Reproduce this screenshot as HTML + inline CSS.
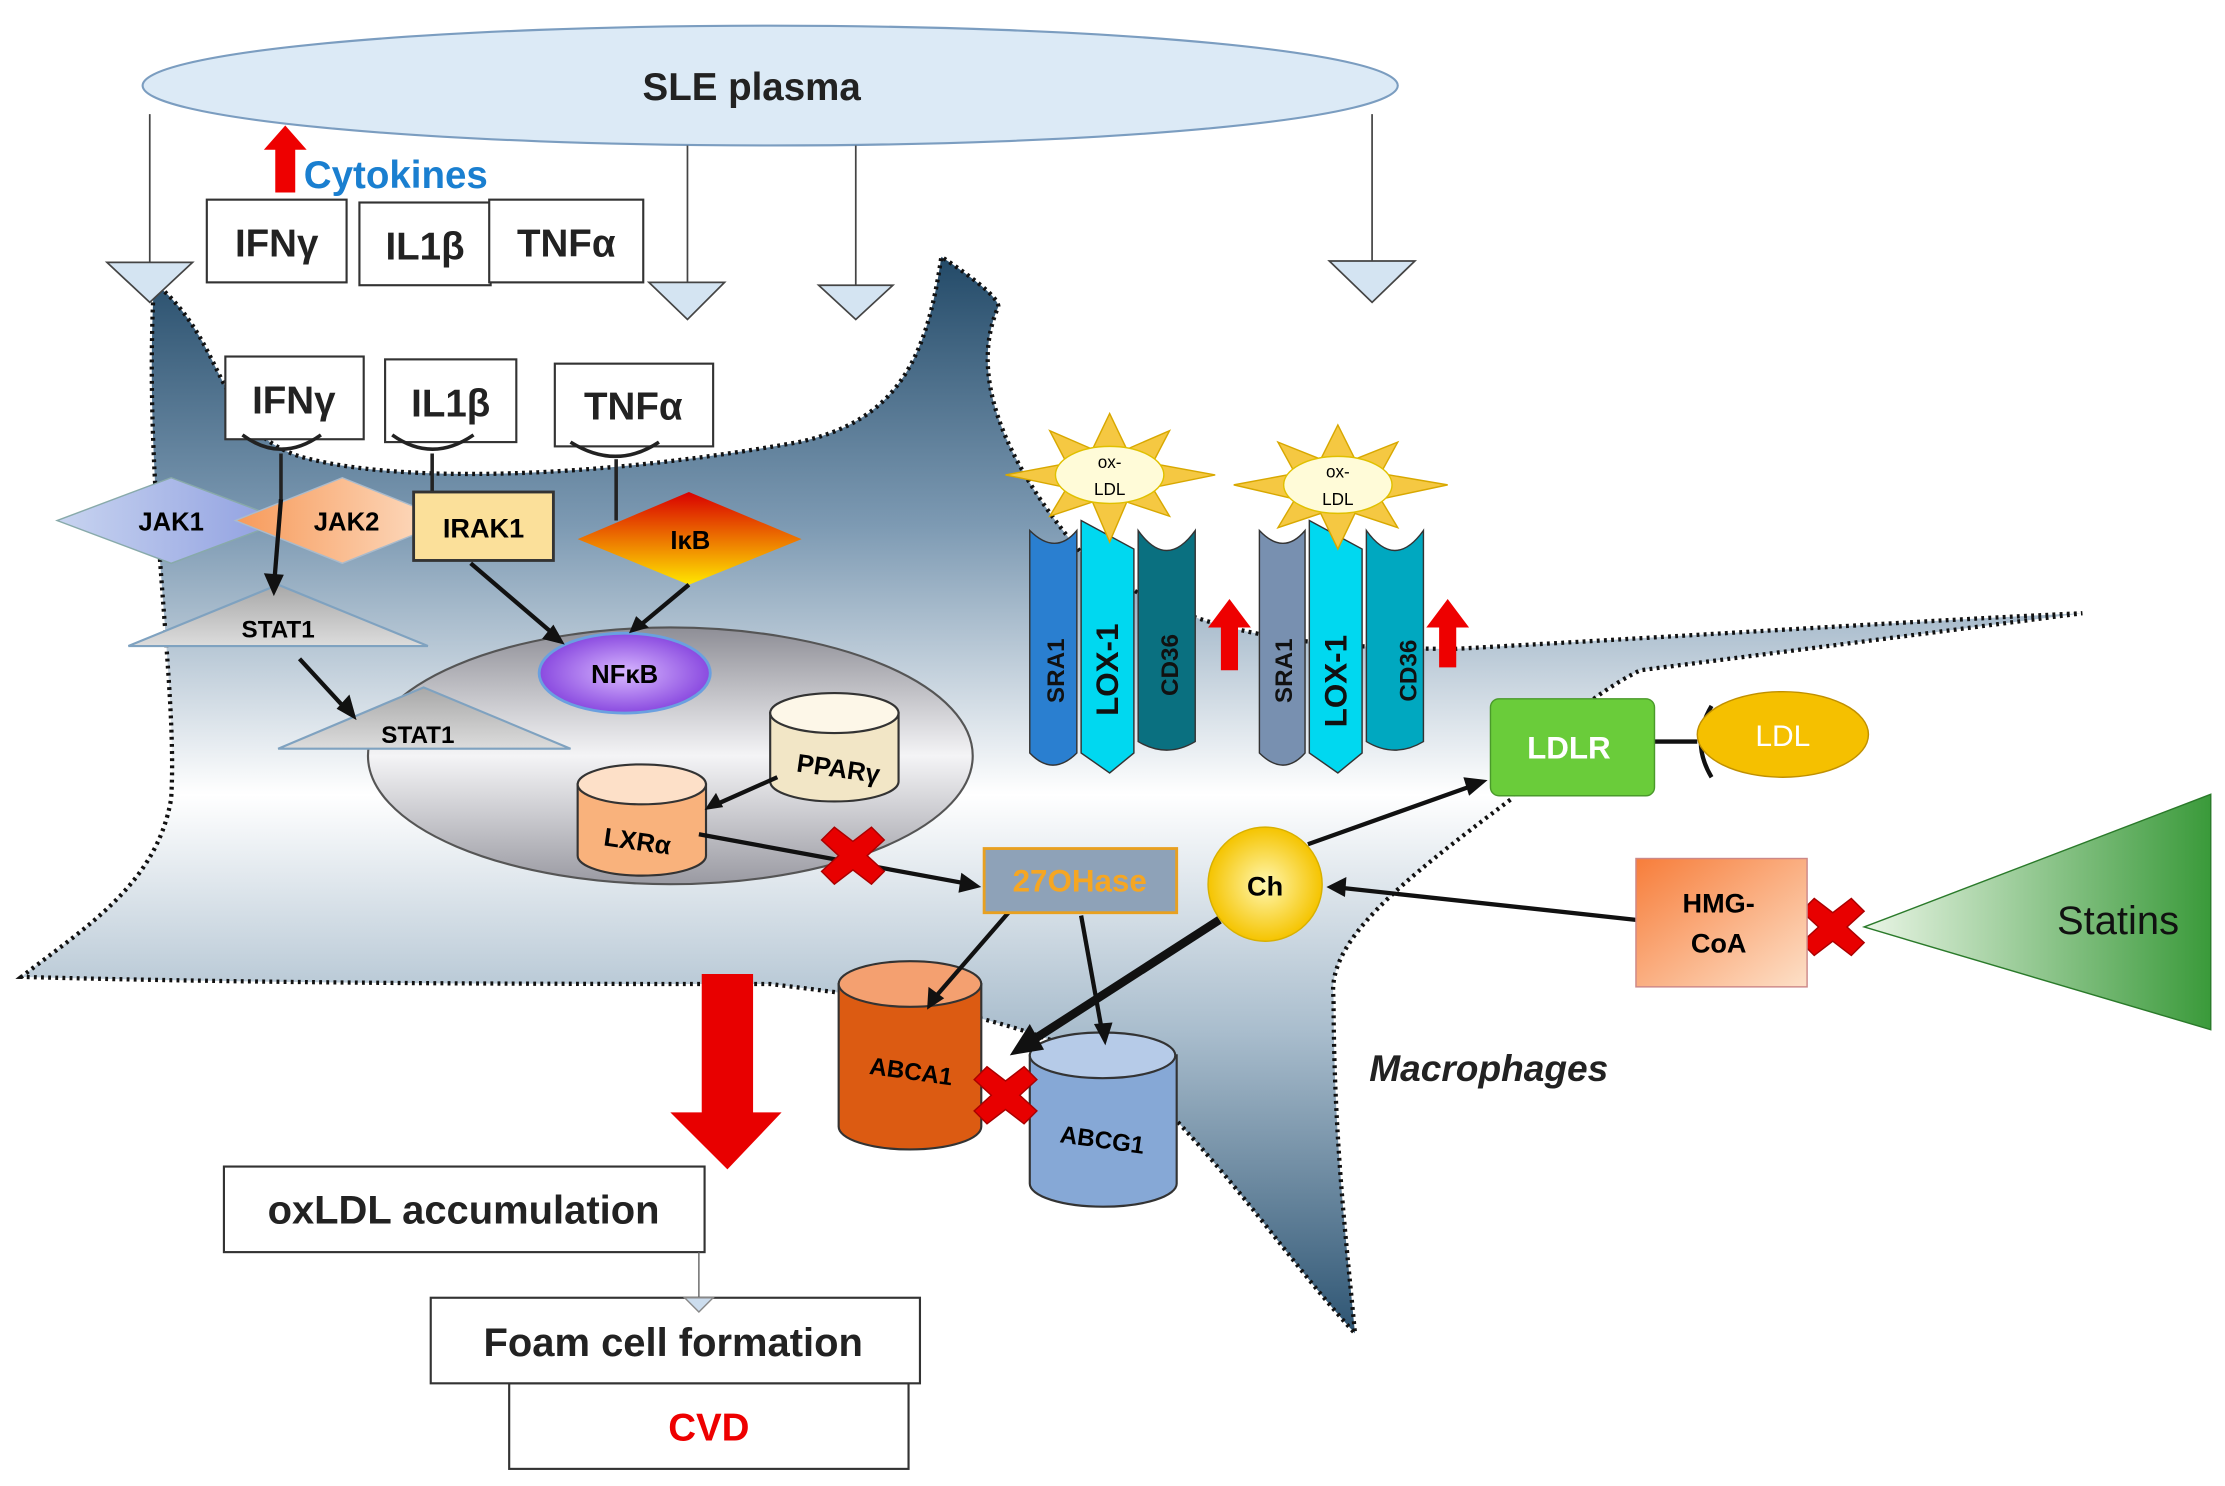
<!DOCTYPE html>
<html><head><meta charset="utf-8"><style>
html,body{margin:0;padding:0;background:#fff;}
svg{display:block;}
text{font-family:"Liberation Sans","DejaVu Sans",sans-serif;}
</style></head><body>
<svg width="2225" height="1486" viewBox="0 0 1560 1042" preserveAspectRatio="none" xmlns="http://www.w3.org/2000/svg">
<defs>
<linearGradient id="cell" x1="0" y1="0" x2="0" y2="1">
<stop offset="0" stop-color="#234a68"/><stop offset="0.25" stop-color="#7d9ab3"/><stop offset="0.5" stop-color="#ffffff"/><stop offset="0.72" stop-color="#a9bdcd"/><stop offset="1" stop-color="#2e5573"/></linearGradient>
<linearGradient id="nuc" x1="0" y1="0" x2="0" y2="1"><stop offset="0" stop-color="#8e8e96"/><stop offset="0.5" stop-color="#f4f4f6"/><stop offset="1" stop-color="#9a9aa2"/></linearGradient>
<linearGradient id="ikb" x1="0" y1="0" x2="0" y2="1"><stop offset="0" stop-color="#d90000"/><stop offset="1" stop-color="#ffe600"/></linearGradient>
<linearGradient id="jak1" x1="0" y1="0" x2="1" y2="0"><stop offset="0" stop-color="#c8d4f0"/><stop offset="1" stop-color="#8e9ee0"/></linearGradient>
<linearGradient id="jak2" x1="0" y1="0" x2="1" y2="0"><stop offset="0" stop-color="#f79a5a"/><stop offset="1" stop-color="#fde0c8"/></linearGradient>
<linearGradient id="stat" x1="0" y1="0" x2="0" y2="1"><stop offset="0" stop-color="#a8a8a8"/><stop offset="1" stop-color="#dcdcdc"/></linearGradient>
<linearGradient id="statins" x1="0" y1="0" x2="1" y2="0"><stop offset="0" stop-color="#eaf5e6"/><stop offset="1" stop-color="#3a9a3a"/></linearGradient>
<linearGradient id="hmg" x1="0" y1="0" x2="1" y2="1"><stop offset="0" stop-color="#f77d3a"/><stop offset="1" stop-color="#fde0c8"/></linearGradient>
<radialGradient id="nfkb"><stop offset="0" stop-color="#d8b8ff"/><stop offset="1" stop-color="#8a4ae0"/></radialGradient>
<radialGradient id="ch"><stop offset="0" stop-color="#fff7b0"/><stop offset="1" stop-color="#f5c400"/></radialGradient>
</defs>

<path d="M108,198 C160,240 150,300 210,320 C280,340 420,335 560,310 C630,295 650,250 660,180 C690,200 700,210 700,215 C680,260 700,320 760,390 C820,440 900,455 1020,455 C1200,445 1350,435 1460,430 L1150,470 C1090,500 1060,550 1060,560 C980,620 930,660 935,700 C935,800 945,880 950,935 C900,880 870,830 800,760 C720,710 620,700 540,690 C400,690 200,690 15,685 C60,650 110,620 120,560 C125,480 100,340 108,198 Z" fill="url(#cell)" stroke="#111" stroke-width="3" stroke-dasharray="2,3"/>

<ellipse cx="540" cy="60" rx="440" ry="42" fill="#dceaf6" stroke="#7b9dc0" stroke-width="1.5"/>
<text x="527" y="70" font-size="27" text-anchor="middle" font-weight="bold" fill="#222">SLE plasma</text>
<g stroke="#444" stroke-width="1.2" fill="#d4e4f2">
<line x1="105" y1="80" x2="105" y2="185"/><polygon points="75,184 135,184 105,212"/>
<line x1="482" y1="102" x2="482" y2="198"/><polygon points="455,198 508,198 482,224"/>
<line x1="600" y1="102" x2="600" y2="200"/><polygon points="574,200 626,200 600,224"/>
<line x1="962" y1="80" x2="962" y2="183"/><polygon points="932,183 992,183 962,212"/>
</g>
<polygon points="193,135 193,105 185,105 200,88 215,105 207,105 207,135" fill="#e00"/>
<text x="213" y="132" font-size="27" font-weight="bold" fill="#1a7fd0">Cytokines</text>
<g fill="#fff" stroke="#333" stroke-width="1.5">
<rect x="145" y="140" width="98" height="58"/><rect x="252" y="142" width="92" height="58"/><rect x="343" y="140" width="108" height="58"/>
<rect x="158" y="250" width="97" height="58"/><rect x="270" y="252" width="92" height="58"/><rect x="389" y="255" width="111" height="58"/>
</g>
<g font-size="27" font-weight="bold" fill="#222" text-anchor="middle">
<text x="194" y="180">IFNγ</text><text x="298" y="182">IL1β</text><text x="397" y="180">TNFα</text>
<text x="206" y="290">IFNγ</text><text x="316" y="292">IL1β</text><text x="444" y="294">TNFα</text>
</g>
<g fill="none" stroke="#222" stroke-width="2.5">
<path d="M170,305 Q197,325 225,305"/><line x1="197" y1="318" x2="197" y2="350"/>
<path d="M275,305 Q303,325 332,305"/><line x1="303" y1="318" x2="303" y2="345"/>
<path d="M400,310 Q432,330 462,310"/><line x1="432" y1="322" x2="432" y2="365"/>
</g>
<polygon points="40,365 120,335 200,365 120,395" fill="url(#jak1)" stroke="#8aa" stroke-width="1"/>
<polygon points="165,365 240,335 315,365 240,395" fill="url(#jak2)" stroke="#abc" stroke-width="1"/>
<text x="120" y="372" font-size="18" font-weight="bold" text-anchor="middle">JAK1</text>
<text x="243" y="372" font-size="18" font-weight="bold" text-anchor="middle">JAK2</text>
<rect x="290" y="345" width="98" height="48" fill="#fbe09a" stroke="#333" stroke-width="2"/>
<text x="339" y="377" font-size="19" font-weight="bold" text-anchor="middle">IRAK1</text>
<polygon points="405,378 483,345 562,378 483,410" fill="url(#ikb)"/>
<text x="484" y="385" font-size="18" font-weight="bold" text-anchor="middle">IκB</text>
<polygon points="90,453 195,410 300,453" fill="url(#stat)" stroke="#7fa2c0" stroke-width="1.5"/>
<text x="195" y="447" font-size="17" font-weight="bold" text-anchor="middle">STAT1</text>

<ellipse cx="470" cy="530" rx="212" ry="90" fill="url(#nuc)" stroke="#555" stroke-width="1.5"/>
<polygon points="195,525 297,482 400,525" fill="url(#stat)" stroke="#7fa2c0" stroke-width="1.5"/>
<text x="293" y="521" font-size="17" font-weight="bold" text-anchor="middle">STAT1</text>
<ellipse cx="438" cy="472" rx="60" ry="28" fill="url(#nfkb)" stroke="#6aa0e0" stroke-width="2"/>
<text x="438" y="479" font-size="18" font-weight="bold" text-anchor="middle">NFκB</text>

<g stroke="#333" stroke-width="1.5">
<path d="M540,500 L540,548 A45,14 0 0 0 630,548 L630,500 Z" fill="#f2e6c6"/><ellipse cx="585" cy="500" rx="45" ry="14" fill="#fdf7e8"/>
<path d="M405,550 L405,600 A45,14 0 0 0 495,600 L495,550 Z" fill="#f9b27c"/><ellipse cx="450" cy="550" rx="45" ry="14" fill="#fde0c8"/>
<path d="M588,690 L588,790 A50,16 0 0 0 688,790 L688,690 Z" fill="#dc5b12"/><ellipse cx="638" cy="690" rx="50" ry="16" fill="#f4a070"/>
<path d="M722,740 L722,830 A51,16 0 0 0 825,830 L825,740 Z" fill="#86a8d6"/><ellipse cx="773" cy="740" rx="51" ry="16" fill="#b6cbe8"/>
</g>

<g stroke="#111" stroke-width="3" fill="none">
<line x1="197" y1="350" x2="192" y2="412"/><line x1="210" y1="462" x2="245" y2="500"/>
<line x1="330" y1="395" x2="392" y2="448"/><line x1="483" y1="410" x2="447" y2="440"/>
<line x1="545" y1="545" x2="500" y2="565"/><line x1="490" y1="585" x2="680" y2="620"/>
<line x1="707" y1="640" x2="655" y2="700"/><line x1="758" y1="642" x2="773" y2="725"/>
<line x1="917" y1="592" x2="1035" y2="550"/><line x1="1147" y1="645" x2="935" y2="622"/>
</g>
<g fill="#111">
<polygon points="192,418 185,402 199,403"/><polygon points="250,505 236,497 245,487"/>
<polygon points="396,452 380,448 388,438"/><polygon points="441,444 446,432 455,440"/>
<polygon points="494,568 502,556 507,566"/><polygon points="688,622 672,626 674,612"/>
<polygon points="650,708 651,692 662,700"/><polygon points="775,733 767,718 780,717"/>
<polygon points="1043,547 1030,558 1026,545"/><polygon points="930,622 944,615 943,629"/>
<line x1="1147" y1="520" x2="1190" y2="520" stroke="#111" stroke-width="3"/>
</g>
<text x="587" y="545" font-size="18" font-weight="bold" text-anchor="middle" transform="rotate(8 587 545)">PPARγ</text>
<text x="446" y="596" font-size="18" font-weight="bold" text-anchor="middle" transform="rotate(8 446 596)">LXRα</text>
<text x="638" y="757" font-size="17" font-weight="bold" text-anchor="middle" transform="rotate(8 638 757)">ABCA1</text>
<text x="772" y="805" font-size="17" font-weight="bold" text-anchor="middle" transform="rotate(8 772 805)">ABCG1</text>
<g fill="#e80000" stroke="#a00" stroke-width="1">
<path d="M585,580 L598,590 L611,580 L620,589 L608,600 L620,611 L611,620 L598,610 L585,620 L576,611 L588,600 L576,589 Z"/>
<path d="M692,748 L705,758 L718,748 L727,757 L715,768 L727,779 L718,788 L705,778 L692,788 L683,779 L695,768 L683,757 Z"/>
<path d="M1272,630 L1285,640 L1298,630 L1307,639 L1295,650 L1307,661 L1298,670 L1285,660 L1272,670 L1263,661 L1275,650 L1263,639 Z"/>
</g>
<rect x="690" y="595" width="135" height="45" fill="#8ea2b8" stroke="#e8a020" stroke-width="2"/>
<text x="757" y="625" font-size="22" font-weight="bold" text-anchor="middle" fill="#f5a623">27OHase</text>
<line x1="855" y1="645" x2="720" y2="732" stroke="#111" stroke-width="6"/>
<polygon points="708,740 722,718 732,736" fill="#111"/>
<circle cx="887" cy="620" r="40" fill="url(#ch)" stroke="#d8b000" stroke-width="1"/>
<text x="887" y="628" font-size="19" font-weight="bold" text-anchor="middle">Ch</text>
<rect x="1045" y="490" width="115" height="68" rx="6" fill="#6acc3a" stroke="#4a9a2a"/>
<text x="1100" y="532" font-size="22" font-weight="bold" fill="#fff" text-anchor="middle">LDLR</text>
<path d="M1200,495 Q1185,520 1200,545" fill="none" stroke="#111" stroke-width="3"/>
<ellipse cx="1250" cy="515" rx="60" ry="30" fill="#f5c000" stroke="#c09000"/>
<text x="1250" y="523" font-size="21" fill="#fff" text-anchor="middle">LDL</text>
<rect x="1147" y="602" width="120" height="90" fill="url(#hmg)" stroke="#c88"/>
<text x="1205" y="640" font-size="19" font-weight="bold" text-anchor="middle">HMG-</text>
<text x="1205" y="668" font-size="19" font-weight="bold" text-anchor="middle">CoA</text>
<polygon points="1307,650 1550,557 1550,722" fill="url(#statins)" stroke="#2a7a2a"/>
<text x="1485" y="655" font-size="28" text-anchor="middle" fill="#111">Statins</text>
<text x="960" y="758" font-size="26" font-weight="bold" font-style="italic" fill="#222">Macrophages</text>
<g stroke="#333" stroke-width="1">
<path d="M722,372 Q740,390 755,372 L755,528 Q738,545 722,528 Z" fill="#2a7fd0"/>
<path d="M758,365 L795,385 L795,528 L778,542 L758,528 Z" fill="#00d8f0"/>
<path d="M798,372 Q818,400 838,372 L838,520 Q818,532 798,520 Z" fill="#0a7080"/>
<path d="M883,372 Q900,390 915,372 L915,528 Q900,545 883,528 Z" fill="#7890b0"/>
<path d="M918,365 L955,385 L955,528 L938,542 L918,528 Z" fill="#00d8f0"/>
<path d="M958,372 Q978,400 998,372 L998,520 Q978,532 958,520 Z" fill="#00a8c0"/>
</g>
<g font-size="17" font-weight="bold" fill="#111">
<text transform="translate(746,493) rotate(-90)" font-family="Liberation Serif">SRA1</text>
<text transform="translate(784,502) rotate(-90)" font-size="22">LOX-1</text>
<text transform="translate(826,488) rotate(-90)">CD36</text>
<text transform="translate(906,493) rotate(-90)" font-family="Liberation Serif">SRA1</text>
<text transform="translate(944,510) rotate(-90)" font-size="22">LOX-1</text>
<text transform="translate(993,492) rotate(-90)">CD36</text>
</g>
<g fill="#f5c842" stroke="#d8a800">
<polygon points="778,290 790,315 820,302 808,325 852,333 808,342 820,362 790,352 778,380 766,352 736,362 748,342 705,333 748,325 736,302 766,315"/>
<polygon points="938,298 950,322 980,310 968,332 1015,340 968,350 980,370 950,360 938,385 926,360 896,370 908,350 865,340 908,332 896,310 926,322"/>
</g>
<ellipse cx="778" cy="333" rx="38" ry="20" fill="#fffbd8" stroke="#e0c000"/>
<ellipse cx="938" cy="340" rx="38" ry="20" fill="#fffbd8" stroke="#e0c000"/>
<text x="778" y="328" font-size="12" text-anchor="middle">ox-</text><text x="778" y="347" font-size="12" text-anchor="middle">LDL</text>
<text x="938" y="335" font-size="12" text-anchor="middle">ox-</text><text x="938" y="354" font-size="12" text-anchor="middle">LDL</text>
<polygon points="856,470 856,440 847,440 862,420 877,440 868,440 868,470" fill="#e00"/>
<polygon points="1009,468 1009,440 1000,440 1015,420 1030,440 1021,440 1021,468" fill="#e00"/>
<polygon points="492,683 528,683 528,780 548,780 510,820 470,780 492,780" fill="#e80000"/>
<g fill="#fff" stroke="#333" stroke-width="1.5">
<rect x="357" y="970" width="280" height="60"/>
<rect x="157" y="818" width="337" height="60"/>
<rect x="302" y="910" width="343" height="60"/>
</g>
<line x1="490" y1="878" x2="490" y2="910" stroke="#666"/>
<polygon points="480,910 500,910 490,920" fill="#cde" stroke="#888"/>
<text x="325" y="858" font-size="28" font-weight="bold" text-anchor="middle" fill="#222">oxLDL accumulation</text>
<text x="472" y="951" font-size="28" font-weight="bold" text-anchor="middle" fill="#222">Foam cell formation</text>
<text x="497" y="1010" font-size="27" font-weight="bold" text-anchor="middle" fill="#e00">CVD</text>
</svg>
</body></html>
